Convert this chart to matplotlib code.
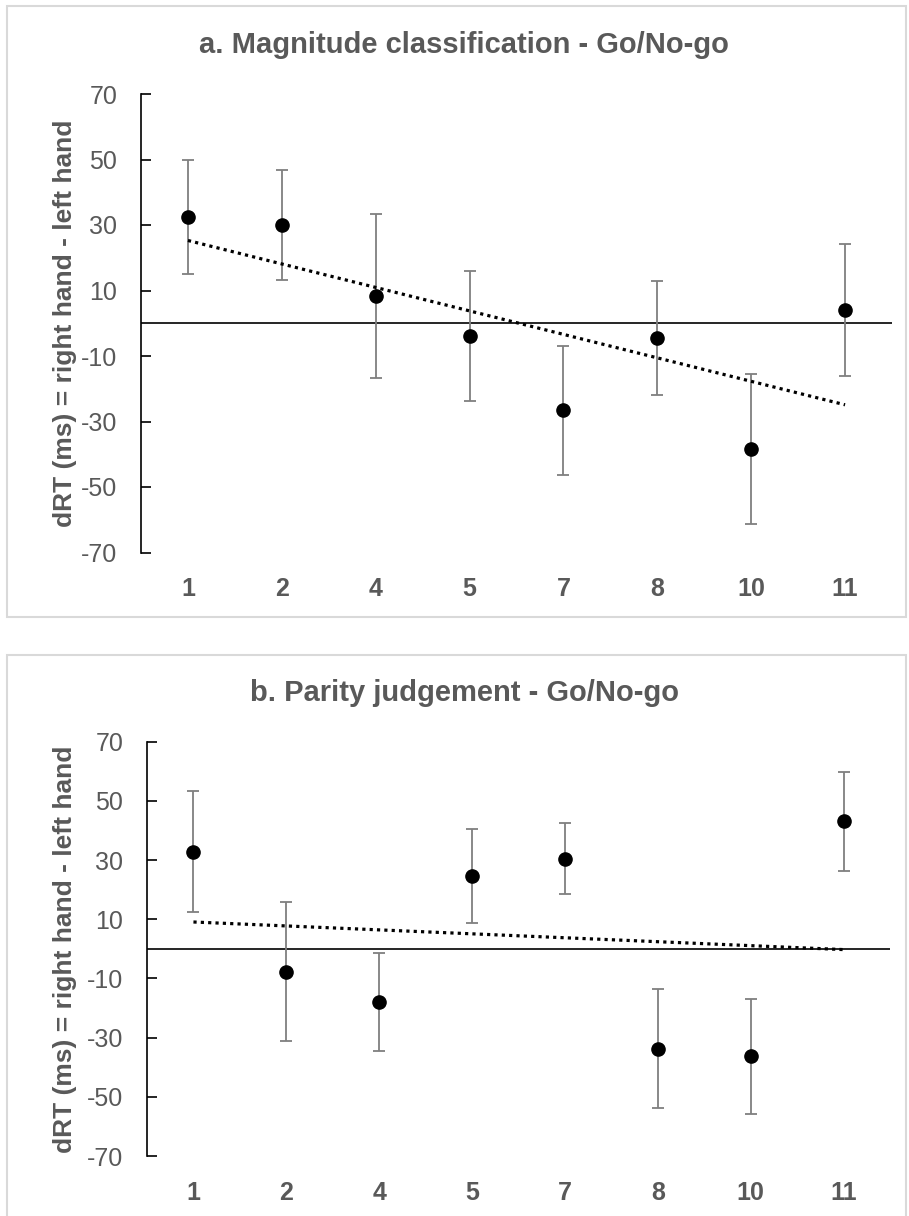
import numpy as np
import matplotlib
matplotlib.use("Agg")
import matplotlib.pyplot as plt
from matplotlib.patches import Rectangle

plt.rcParams['font.family'] = ['Liberation Sans', 'DejaVu Sans']
plt.rcParams['axes.unicode_minus'] = False

# Data
digits = ['1', '2', '4', '5', '7', '8', '10', '11']

mag_mean = [32.5, 30.0, 8.3, -3.9, -26.6, -4.5, -38.3, 4.0]
mag_err = [17.5, 16.9, 25.0, 19.9, 19.7, 17.5, 22.9, 20.2]

par_mean = [32.8, -7.8, -17.9, 24.6, 30.5, -33.7, -36.3, 43.1]
par_err = [20.4, 23.5, 16.6, 15.8, 12.1, 20.1, 19.4, 16.8]

titles = ['a. Magnitude classification - Go/No-go',
          'b. Parity judgement - Go/No-go']
ylabel = 'dRT (ms) = right hand - left hand'
yticks = [70, 50, 30, 10, -10, -30, -50, -70]

gray_txt = '#595959'
W, H = 909, 1216

fig = plt.figure(figsize=(W / 100, H / 100), dpi=100)


def px_axes(left, top, right, bottom):
    return fig.add_axes([left / W, 1 - bottom / H, (right - left) / W, (bottom - top) / H])


def panel(ax, means, errs):
    x = np.arange(len(digits))
    ax.errorbar(x, means, yerr=errs, fmt='none', ecolor='#7f7f7f',
                elinewidth=1.3, capsize=4.5, capthick=1.3, zorder=2)
    ax.plot(x, means, 'o', color='black', markersize=9.5, zorder=4)
    # linear trend line (like Excel's)
    slope, icpt = np.polyfit(x, means, 1)
    ax.plot(x[[0, -1]], icpt + slope * x[[0, -1]], color='black', lw=2.3,
            linestyle=(0, (1, 1.3)), zorder=3)
    ax.axhline(0, color='black', lw=1.2, zorder=1)
    ax.set_xlim(-0.5, len(digits) - 0.5)
    ax.set_ylim(-70, 70)
    ax.set_yticks(yticks)
    ax.set_xticks(x)
    ax.set_xticklabels(digits, fontsize=18, fontweight='bold', color=gray_txt)
    ax.tick_params(axis='y', direction='in', length=7, width=1.2, pad=17,
                   labelsize=18, labelcolor=gray_txt, color='black')
    ax.tick_params(axis='x', length=0, pad=18)
    for s in ['top', 'right', 'bottom']:
        ax.spines[s].set_visible(False)
    ax.spines['left'].set_linewidth(1.2)
    ax.patch.set_alpha(0)


# panel frames
fig.patches.append(Rectangle((7 / W, 1 - 617 / H), 899 / W, 611 / H, transform=fig.transFigure,
                             fill=False, edgecolor='#d9d9d9', lw=1.5))
fig.patches.append(Rectangle((7 / W, 1 - 1230 / H), 899 / W, 575 / H, transform=fig.transFigure,
                             fill=False, edgecolor='#d9d9d9', lw=1.5))

ax1 = px_axes(141, 94, 892, 552.5)
panel(ax1, mag_mean, mag_err)
ax2 = px_axes(147, 741.7, 890, 1156)
panel(ax2, par_mean, par_err)

fig.text(464 / W, 1 - 45 / H, titles[0], ha='center', va='center',
         fontsize=21, fontweight='bold', color=gray_txt)
fig.text(464 / W, 1 - 693 / H, titles[1], ha='center', va='center',
         fontsize=21, fontweight='bold', color=gray_txt)
fig.text(65 / W, 1 - 323 / H, ylabel, ha='center', va='center', rotation=90,
         fontsize=19, fontweight='bold', color=gray_txt)
fig.text(65 / W, 1 - 949 / H, ylabel, ha='center', va='center', rotation=90,
         fontsize=19, fontweight='bold', color=gray_txt)

fig.savefig('out.png', dpi=100)
